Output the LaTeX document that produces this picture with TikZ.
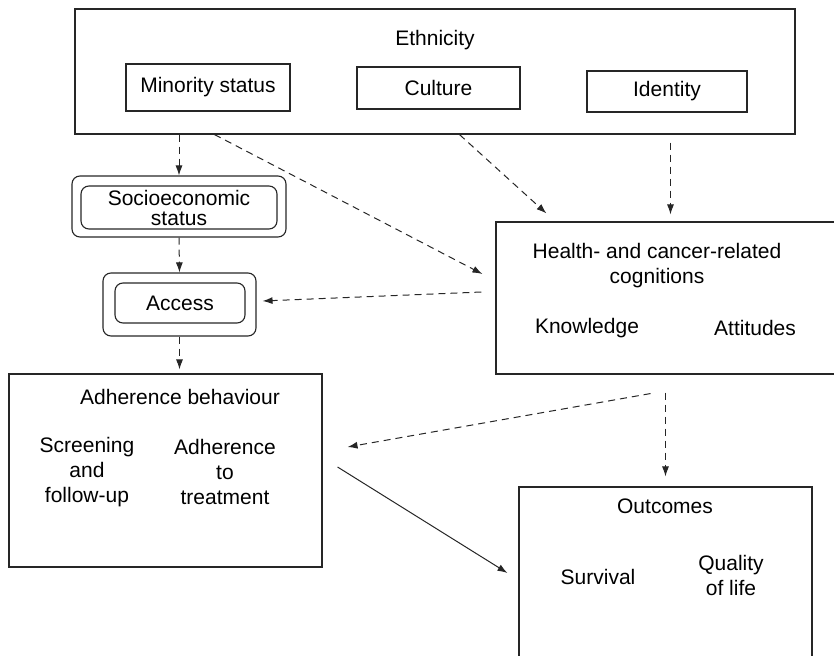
\documentclass[tikz,border=0pt]{standalone}
\usepackage{fontspec}
\setmainfont{Liberation Sans}
\usetikzlibrary{arrows.meta}

\begin{document}
\begin{tikzpicture}[x=1pt,y=-1pt,
  font=\fontsize{21}{25}\selectfont,
  line join=miter,
  wh/.style 2 args={minimum width=#1, minimum height=#2},
  box/.style={draw=black!85, line width=1.1pt, inner sep=0pt},
  rbox/.style={box, rounded corners=8pt},
  lbl/.style={inner sep=0pt, align=center},
  dar/.style={draw=black!85, line width=1pt, dash pattern=on 7pt off 5pt,
    -{Latex[length=10pt,width=7pt]}},
  sar/.style={draw=black!85, line width=1pt, -{Latex[length=10pt,width=7pt]}}
]
\useasboundingbox (0,0) rectangle (834,655);
\clip (0,0) rectangle (834,655);

% ethnicity and its three components
\node[box, wh={720pt}{125pt}] (eth) at (435,71.5) {};
\node[lbl] (ethT) at (435,40) {Ethnicity};
\node[box, wh={164pt}{47pt}] (min) at (208,87.5) {Minority status};
\node[box, wh={163pt}{42pt}] (cul) at (438.5,88) {Culture};
\node[box, wh={160pt}{41pt}] (idb) at (667,91.5) {Identity};

% double-framed boxes
\node[rbox, wh={214pt}{61pt}] (ses) at (179,206.5) {};
\node[rbox, wh={196pt}{43pt}, align=center, font=\fontsize{21}{20}\selectfont] (sesI) at (179,207.5) {Socioeconomic\\status};
\node[rbox, wh={153pt}{63pt}] (acc) at (179.5,304.5) {};
\node[rbox, wh={130pt}{40pt}] (accI) at (180,303) {Access};

% cognitions
\node[box, wh={349pt}{152pt}] (hc) at (670.5,298) {};
\node[lbl] (hcT) at (657,266) {Health- and cancer-related\\cognitions};
\node[lbl] (kno) at (587,328) {Knowledge};
\node[lbl] (att) at (755,328) {Attitudes};

% adherence behaviour
\node[box, wh={313pt}{193pt}] (adh) at (165.5,470.5) {};
\node[lbl] (adhT) at (180,397) {Adherence behaviour};
\node[lbl] (scr) at (87,472) {Screening\\and\\follow-up};
\node[lbl] (tre) at (225,472) {Adherence\\to\\treatment};

% outcomes
\node[box, wh={293pt}{193pt}] (oc) at (665.5,583.5) {};
\node[lbl] (ocT) at (665,506) {Outcomes};
\node[lbl] (sur) at (598,577) {Survival};
\node[lbl] (qol) at (731,575) {Quality\\of life};

% connectors
\draw[dar] (eth.south -| ses.north) -- (ses.north);
\draw[dar] (ses.south) -- (acc.north);
\draw[dar, shorten >=4pt] (acc.south) -- (acc.south |- adh.north);
\draw[dar] ([xshift=140pt]eth.south west) -- ([xshift=-13pt,yshift=24pt]hc.west);
\draw[dar] ([xshift=385pt]eth.south west) -- ([xshift=51pt,yshift=8pt]hc.north west);
\draw[dar, shorten <=8pt, shorten >=7pt] (eth.south -| hc.north) -- (hc.north);
\draw[dar] ([xshift=-14pt,yshift=6pt]hc.west) -- ([xshift=6pt,yshift=3.5pt]acc.east);
\draw[dar] ([xshift=-20pt,yshift=-19pt]hc.south) -- ([xshift=25pt,yshift=23.5pt]adh.east);
\draw[dar, shorten <=18pt, shorten >=10pt] (hc.south -| oc.north) -- (oc.north);
\draw[sar] ([xshift=15pt,yshift=3.5pt]adh.east) -- ([xshift=-11pt,yshift=10.5pt]oc.west);
\end{tikzpicture}
\end{document}
